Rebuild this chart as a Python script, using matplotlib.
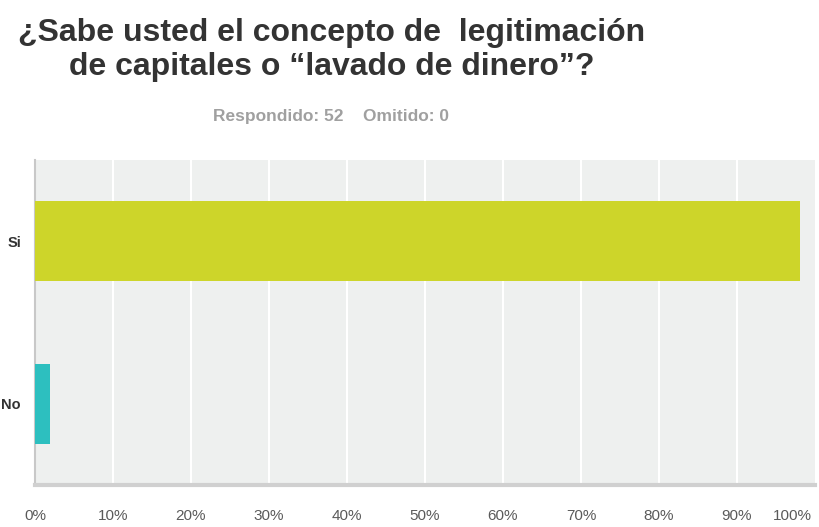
import matplotlib.pyplot as plt
from matplotlib import font_manager

# ----------
# data
# ----------
categories = ["Si", "No"]
percentages = [98.08, 1.92]
bar_colors = ["#CDD52A", "#2DBFBF"]
tick_values = [0, 10, 20, 30, 40, 50, 60, 70, 80, 90, 100]
tick_labels = ["0%", "10%", "20%", "30%", "40%", "50%", "60%", "70%", "80%", "90%", "100%"]

names = {f.name for f in font_manager.fontManager.ttflist}
narrow = "Liberation Sans Narrow" if "Liberation Sans Narrow" in names else "Liberation Sans"

W, H = 820, 527
fig = plt.figure(figsize=(W / 100, H / 100), dpi=100)
ax = fig.add_axes([35 / W, 1 - 485 / H, 780 / W, 325 / H])
ax.set_facecolor("#EEF0EF")

ypos = [0, 1]
ax.barh(ypos, percentages, height=0.49, color=bar_colors, zorder=3)
ax.set_xlim(0, 100)
ax.set_ylim(1.5, -0.5)

ax.set_xticks(tick_values[1:-1])
ax.set_xticklabels([])
ax.tick_params(axis="x", length=0)
ax.grid(axis="x", color="white", linewidth=1.5, zorder=1)
ax.set_yticks(ypos)
ax.set_yticklabels(categories, fontsize=10.5, fontweight="bold",
                   color="#333333", family="Liberation Sans")
ax.tick_params(axis="y", length=0, pad=10)

for s in ["top", "right"]:
    ax.spines[s].set_visible(False)
ax.spines["left"].set_color("#C8C8C8")
ax.spines["left"].set_linewidth(1.5)
ax.spines["bottom"].set_color("#D0D0D0")
ax.spines["bottom"].set_linewidth(3)

# tick labels drawn below the axis; the last one pulled in to fit
for v, lab in zip(tick_values, tick_labels):
    x = (35 + v * 7.8) / W
    if v == 100:
        x = 792 / W
    fig.text(x, 1 - 516 / H, lab, ha="center", va="center",
             fontsize=11, color="#5A5A5A", family="Liberation Sans")

fig.text(332 / W, 1 - 50 / H,
         "¿Sabe usted el concepto de  legitimación\nde capitales o “lavado de dinero”?",
         ha="center", va="center", multialignment="center",
         fontsize=23, fontweight="bold", color="#333333",
         family=[narrow, "DejaVu Sans"], linespacing=1.2)

fig.text(331 / W, 1 - 117 / H, "Respondido: 52    Omitido: 0",
         ha="center", va="center", fontsize=12.5, fontweight="bold",
         color="#A0A0A0", family=[narrow, "DejaVu Sans"])

fig.savefig("out.png", dpi=100)
